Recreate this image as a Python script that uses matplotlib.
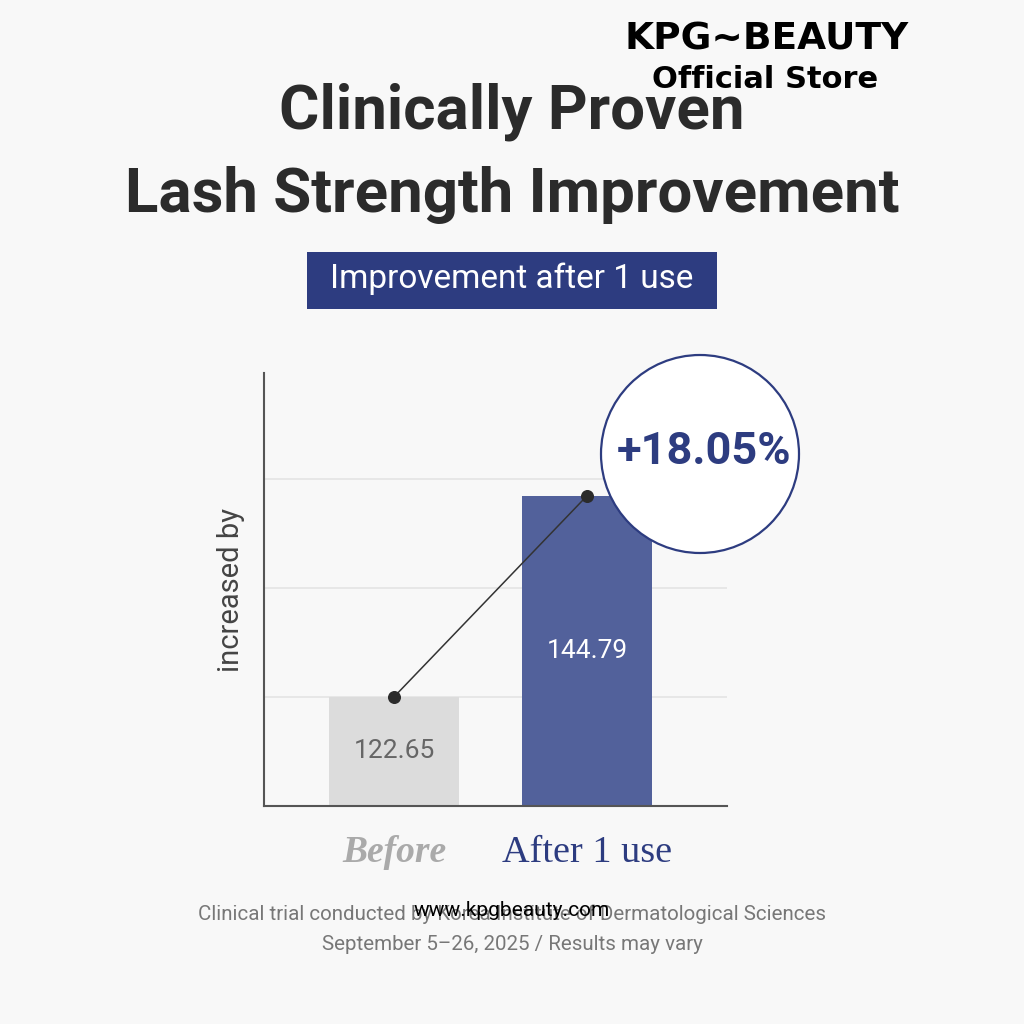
import matplotlib.pyplot as plt
from matplotlib.patches import Circle, Rectangle

# data
categories = ["Before", "After 1 use"]
values = [122.65, 144.79]
change_pct = 18.05
title_lines = ["Clinically Proven", "Lash Strength Improvement"]
banner_text = "Improvement after 1 use"
ylabel = "increased by"
footer_lines = ["Clinical trial conducted by Korea Institute of Dermatological Sciences",
                "September 5\u201326, 2025 / Results may vary"]

bg = "#f8f8f8"
navy = "#2d3c80"
bar_colors = ["#dcdcdc", "#52619b"]
label_colors = ["#666666", "white"]

plt.rcParams['font.family'] = ['Roboto', 'DejaVu Sans']

fig = plt.figure(figsize=(10.24, 10.24), dpi=100, facecolor=bg)
ax = fig.add_axes([264 / 1024, 1 - 806 / 1024, 463 / 1024, 433 / 1024])
ax.set_facecolor(bg)

x = [0, 1]
ax.bar(x, values, width=0.674, color=bar_colors, zorder=2)
ax.plot(x, values, color="#333333", lw=1.1, zorder=3)
ax.scatter(x, values, s=70, color="#2b2b2b", zorder=4)

ymin = 110.64
ax.set_xlim(-0.6736, 1.725)
ax.set_ylim(ymin, 158.3)
ax.set_yticks([ymin + 12.0 * k for k in range(1, 4)])
ax.yaxis.grid(True, color="#e4e4e4", lw=1.2, zorder=0)
ax.tick_params(axis='y', length=0, labelleft=False)

for s in ["top", "right"]:
    ax.spines[s].set_visible(False)
for s in ["left", "bottom"]:
    ax.spines[s].set_color("#555555")
    ax.spines[s].set_linewidth(1.5)

# value labels inside bars
label_y = [ymin + 6.0, values[1] - 17.1]
for xi, v, ly, c in zip(x, values, label_y, label_colors):
    ax.text(xi, ly, f"{v:.2f}", ha="center", va="center", fontsize=19, color=c, zorder=5)

# category labels
ax.set_xticks(x)
ax.set_xticklabels(categories)
ax.tick_params(axis='x', length=0, pad=21)
xl = ax.get_xticklabels()
xl[0].set(family="Liberation Serif", style="italic", weight="bold", color="#aaaaaa", fontsize=27)
xl[1].set(family="Liberation Serif", color=navy, fontsize=27.5)

ax.set_ylabel(ylabel, fontsize=21, color="#444444", labelpad=14)

# percent bubble
circ = Circle((700 / 1024, 1 - 454 / 1024), 99 / 1024, transform=fig.transFigure,
              facecolor="white", edgecolor=navy, lw=1.6, zorder=10)
fig.add_artist(circ)
fig.text(704 / 1024, 1 - 452 / 1024, f"+{change_pct:.2f}%", ha="center", va="center",
         fontsize=32.5, weight="bold", color=navy, zorder=11)

# title
fig.text(0.5, 1 - 112 / 1024, title_lines[0], ha="center", va="center",
         fontsize=44.5, weight="bold", color="#2b2b2b")
fig.text(0.5, 1 - 195 / 1024, title_lines[1], ha="center", va="center",
         fontsize=44.5, weight="bold", color="#2b2b2b")

# banner
fig.add_artist(Rectangle((307 / 1024, 1 - 309 / 1024), 410 / 1024, 57 / 1024,
                         transform=fig.transFigure, facecolor=navy, edgecolor="none"))
fig.text(0.5, 1 - 279 / 1024, banner_text, ha="center", va="center",
         fontsize=24, color="white")

# footer
fig.text(0.5, 1 - 914 / 1024, footer_lines[0], ha="center", va="center",
         fontsize=14.8, color="#777777")
fig.text(0.5, 1 - 944 / 1024, footer_lines[1], ha="center", va="center",
         fontsize=14.8, color="#777777")
fig.text(512 / 1024, 1 - 910 / 1024, "www.kpgbeauty.com", ha="center", va="center",
         fontsize=15, color="black", zorder=12)

# store mark
fig.text(767 / 1024, 1 - 40 / 1024, "KPG~BEAUTY", ha="center", va="center",
         fontsize=27, weight="bold", color="black", family="DejaVu Sans")
fig.text(765 / 1024, 1 - 80 / 1024, "Official Store", ha="center", va="center",
         fontsize=22, weight="bold", color="black", family="DejaVu Sans", zorder=3)

fig.savefig("out.png", dpi=100, facecolor=bg)
